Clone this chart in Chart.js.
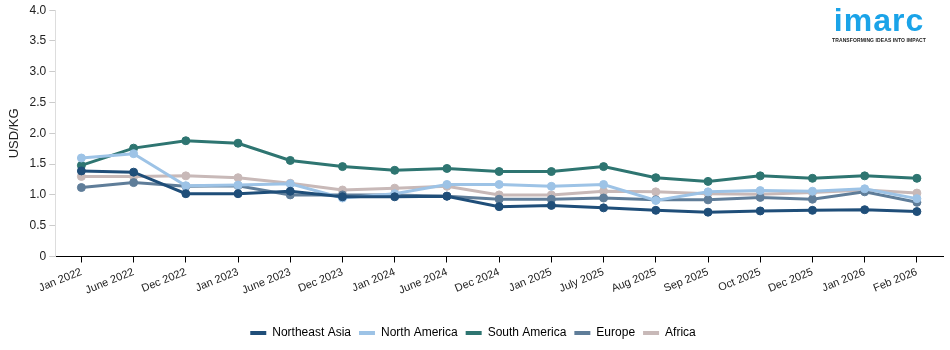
<!DOCTYPE html>
<html>
<head>
<meta charset="utf-8">
<script src="https://cdn.jsdelivr.net/npm/chart.js@4/dist/chart.umd.min.js"></script>
<style>
  html, body { margin: 0; padding: 0; background: #fff; }
  #wrap { position: relative; width: 950px; height: 350px; }
  #logo { position: absolute; right: 24px; top: 3px; text-align: center; font-family: "Liberation Sans", Arial, sans-serif; color: #1aa3e8; }
  #logo .name { font-size: 32px; font-weight: bold; letter-spacing: 1px; line-height: 34px; }
  #logo .tag { font-size: 5px; font-weight: bold; color: #222; letter-spacing: 0.1px; }
</style>
</head>
<body>
<div id="wrap">
  <canvas id="chart"></canvas>
  <div id="logo"><div class="name">imarc</div><div class="tag">TRANSFORMING IDEAS INTO IMPACT</div></div>
</div>
<script>
const labels = ['Jan 2022', 'June 2022', 'Dec 2022', 'Jan 2023', 'June 2023', 'Dec 2023', 'Jan 2024', 'June 2024',
  'Dec 2024', 'Jan 2025', 'July 2025', 'Aug 2025', 'Sep 2025', 'Oct 2025', 'Dec 2025', 'Jan 2026', 'Feb 2026'];

const northeastAsia = [1.39, 1.37, 1.02, 1.02, 1.06, 0.97, 0.97, 0.98, 0.81, 0.83, 0.79, 0.75, 0.72, 0.74, 0.75, 0.76, 0.73];
const northAmerica  = [1.60, 1.67, 1.15, 1.16, 1.18, 0.95, 1.02, 1.17, 1.17, 1.14, 1.17, 0.91, 1.05, 1.07, 1.06, 1.10, 0.94];
const southAmerica  = [1.48, 1.76, 1.88, 1.84, 1.56, 1.46, 1.40, 1.43, 1.38, 1.38, 1.46, 1.28, 1.22, 1.31, 1.27, 1.31, 1.27];
const europe        = [1.12, 1.20, 1.14, 1.15, 1.00, 1.00, 1.00, 0.98, 0.93, 0.93, 0.95, 0.92, 0.92, 0.96, 0.93, 1.05, 0.88];
const africa        = [1.30, 1.30, 1.31, 1.28, 1.19, 1.08, 1.11, 1.14, 1.00, 1.00, 1.06, 1.05, 1.02, 1.01, 1.04, 1.08, 1.03];

const seriesNames  = ['Northeast Asia', 'North America', 'South America', 'Europe', 'Africa'];
const seriesColors = ['#1f4e79', '#9dc3e6', '#2e7571', '#5f7d99', '#c8b9b8'];
const seriesData   = [northeastAsia, northAmerica, southAmerica, europe, africa];

Chart.defaults.font.family = '"Liberation Sans", Arial, sans-serif';
Chart.defaults.font.size = 11;
Chart.defaults.color = '#222';

const datasets = seriesNames.map((name, i) => ({
  label: name,
  data: seriesData[i],
  borderColor: seriesColors[i],
  backgroundColor: seriesColors[i],
  pointBackgroundColor: seriesColors[i],
  pointBorderColor: seriesColors[i],
  borderWidth: 3,
  pointRadius: 4,
  pointBorderWidth: 1,
  pointHoverRadius: 4,
  tension: 0,
  fill: false
}));

new Chart(document.getElementById('chart'), {
  type: 'line',
  data: { labels: labels, datasets: datasets },
  options: {
    responsive: true,
    maintainAspectRatio: false,
    animation: false,
    layout: { padding: { top: 4, right: 7, left: 3, bottom: 1 } },
    plugins: {
      legend: {
        position: 'bottom',
        labels: {
          boxWidth: 16,
          boxHeight: 4,
          padding: 8,
          font: { size: 12 },
          color: '#222',
          generateLabels: chart => chart.data.datasets.map((ds, i) => ({
            text: ds.label,
            fillStyle: ds.borderColor,
            strokeStyle: ds.borderColor,
            lineWidth: 0,
            datasetIndex: i,
            hidden: false
          }))
        }
      },
      tooltip: { enabled: false }
    },
    scales: {
      x: {
        offset: true,
        grid: { display: true, drawOnChartArea: false, drawTicks: true, tickLength: 6, color: '#000' },
        border: { color: '#000', width: 1 },
        ticks: { minRotation: 22, maxRotation: 22, autoSkip: false, color: '#222', font: { size: 11 } },
        afterFit: scale => { scale.height += 19; }
      },
      y: {
        min: 0,
        max: 4,
        grid: { display: true, drawOnChartArea: false, tickLength: 6, color: '#ccc' },
        border: { color: '#ddd' },
        title: { display: true, text: 'USD/KG', font: { size: 13 }, color: '#222' },
        ticks: {
          stepSize: 0.5,
          color: '#222',
          font: { size: 12 },
          callback: v => v === 0 ? '0' : v.toFixed(1)
        }
      }
    }
  }
});
</script>
</body>
</html>
